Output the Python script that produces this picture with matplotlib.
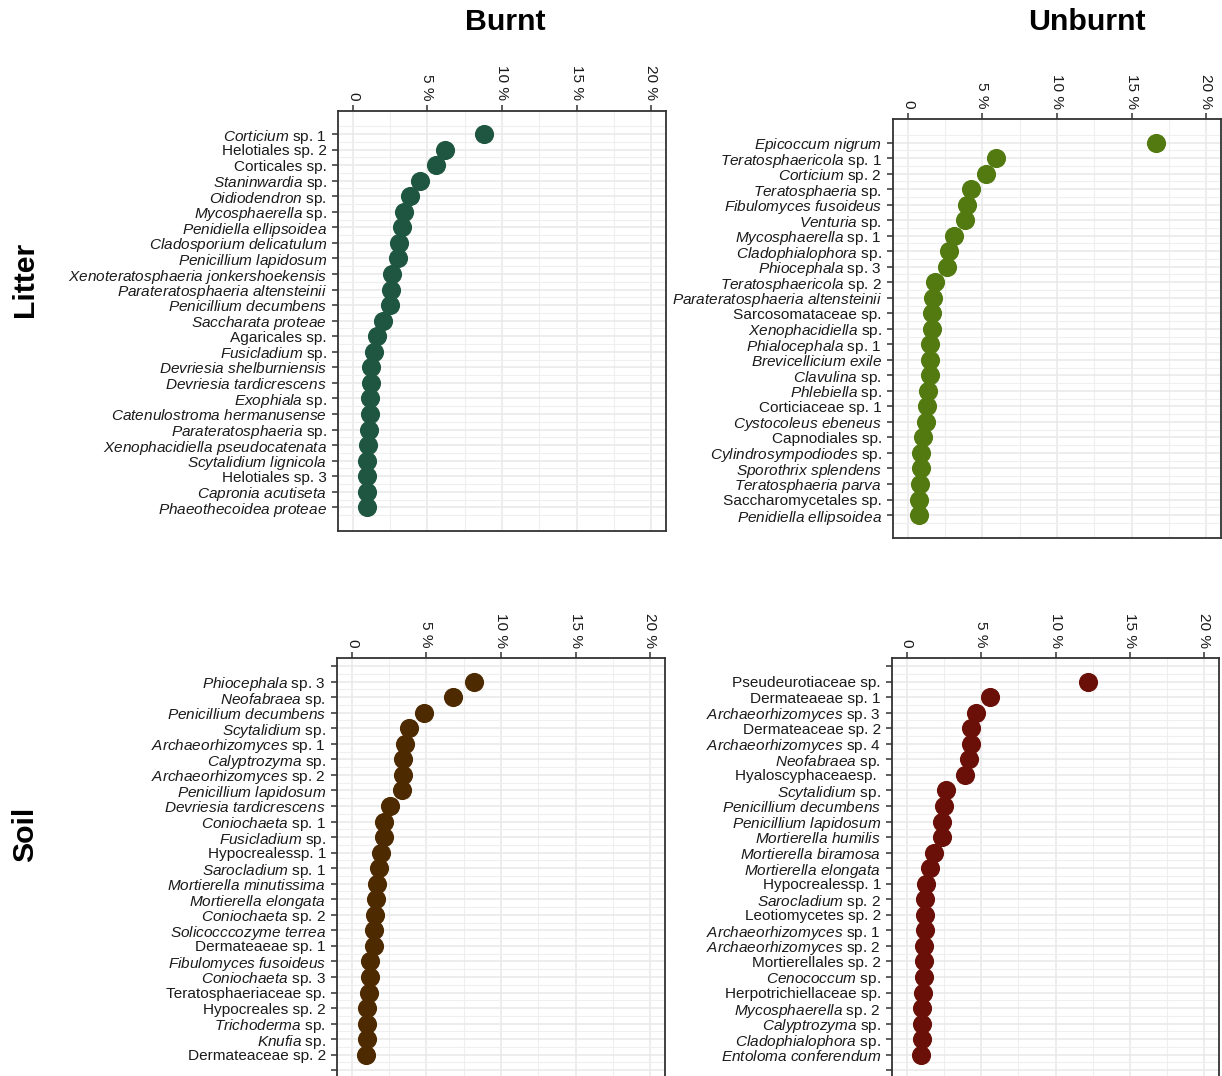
import matplotlib
matplotlib.use('Agg')
import matplotlib.pyplot as plt
import numpy as np

plt.rcParams['font.family'] = 'Liberation Sans'
plt.rcParams['mathtext.fontset'] = 'custom'
plt.rcParams['mathtext.rm'] = 'Liberation Sans'
plt.rcParams['mathtext.it'] = 'Liberation Sans:italic'
plt.rcParams['mathtext.bf'] = 'Liberation Sans:bold'

# relative abundance (%) of the top 25 taxa per habitat and treatment
# *...* marks the part of a name set in italics
litter_burnt_taxa = [
    "*Corticium* sp. 1", "Helotiales sp. 2", "Corticales sp.", "*Staninwardia* sp.",
    "*Oidiodendron* sp.", "*Mycosphaerella* sp.", "*Penidiella ellipsoidea*",
    "*Cladosporium delicatulum*", "*Penicillium lapidosum*",
    "*Xenoteratosphaeria jonkershoekensis*", "*Parateratosphaeria altensteinii*",
    "*Penicillium decumbens*", "*Saccharata proteae*", "Agaricales sp.",
    "*Fusicladium* sp.", "*Devriesia shelburniensis*", "*Devriesia tardicrescens*",
    "*Exophiala* sp.", "*Catenulostroma hermanusense*", "*Parateratosphaeria* sp.",
    "*Xenophacidiella pseudocatenata*", "*Scytalidium lignicola*", "Helotiales sp. 3",
    "*Capronia acutiseta*", "*Phaeothecoidea proteae*",
]
litter_burnt_pct = [8.8, 6.2, 5.6, 4.5, 3.85, 3.43, 3.27, 3.06, 3.04, 2.64, 2.56, 2.51,
                    2.05, 1.63, 1.4, 1.21, 1.19, 1.16, 1.16, 1.05, 1.03, 0.97, 0.92,
                    0.92, 0.92]

litter_unburnt_taxa = [
    "*Epicoccum nigrum*", "*Teratosphaericola* sp. 1", "*Corticium* sp. 2",
    "*Teratosphaeria* sp.", "*Fibulomyces fusoideus*", "*Venturia* sp.",
    "*Mycosphaerella* sp. 1", "*Cladophialophora* sp.", "*Phiocephala* sp. 3",
    "*Teratosphaericola* sp. 2", "*Parateratosphaeria altensteinii*",
    "Sarcosomataceae sp.", "*Xenophacidiella* sp.", "*Phialocephala* sp. 1",
    "*Brevicellicium exile*", "*Clavulina* sp.", "*Phlebiella* sp.",
    "Corticiaceae sp. 1", "*Cystocoleus ebeneus*", "Capnodiales sp.",
    "*Cylindrosympodiodes* sp.", "*Sporothrix splendens*", "*Teratosphaeria parva*",
    "Saccharomycetales sp.", "*Penidiella ellipsoidea*",
]
litter_unburnt_pct = [16.65, 5.9, 5.23, 4.21, 3.97, 3.83, 3.06, 2.77, 2.63, 1.85, 1.69,
                      1.61, 1.59, 1.49, 1.47, 1.45, 1.32, 1.3, 1.18, 1.03, 0.91, 0.87,
                      0.82, 0.77, 0.72]

soil_burnt_taxa = [
    "*Phiocephala* sp. 3", "*Neofabraea* sp.", "*Penicillium decumbens*",
    "*Scytalidium* sp.", "*Archaeorhizomyces* sp. 1", "*Calyptrozyma* sp.",
    "*Archaeorhizomyces* sp. 2", "*Penicillium lapidosum*", "*Devriesia tardicrescens*",
    "*Coniochaeta* sp. 1", "*Fusicladium* sp.", "Hypocrealessp. 1",
    "*Sarocladium* sp. 1", "*Mortierella minutissima*", "*Mortierella elongata*",
    "*Coniochaeta* sp. 2", "*Solicocccozyme terrea*", "Dermateaeae sp. 1",
    "*Fibulomyces fusoideus*", "*Coniochaeta* sp. 3", "Teratosphaeriaceae sp.",
    "Hypocreales sp. 2", "*Trichoderma* sp.", "*Knufia* sp.", "Dermateaceae sp. 2",
]
soil_burnt_pct = [8.21, 6.77, 4.84, 3.86, 3.53, 3.44, 3.42, 3.37, 2.58, 2.16, 2.12, 1.93,
                  1.84, 1.7, 1.63, 1.53, 1.51, 1.47, 1.23, 1.21, 1.12, 1.0, 0.98, 0.98,
                  0.95]

soil_unburnt_taxa = [
    "Pseudeurotiaceae sp.", "Dermateaeae sp. 1", "*Archaeorhizomyces* sp. 3",
    "Dermateaceae sp. 2", "*Archaeorhizomyces* sp. 4", "*Neofabraea* sp.",
    "Hyaloscyphaceaesp. ", "*Scytalidium* sp.", "*Penicillium decumbens*",
    "*Penicillium lapidosum*", "*Mortierella humilis*", "*Mortierella biramosa*",
    "*Mortierella elongata*", "Hypocrealessp. 1", "*Sarocladium* sp. 2",
    "Leotiomycetes sp. 2", "*Archaeorhizomyces* sp. 1", "*Archaeorhizomyces* sp. 2",
    "Mortierellales sp. 2", "*Cenococcum* sp.", "Herpotrichiellaceae sp.",
    "*Mycosphaerella* sp. 2", "*Calyptrozyma* sp.", "*Cladophialophora* sp.",
    "*Entoloma conferendum*",
]
soil_unburnt_pct = [12.19, 5.58, 4.62, 4.31, 4.29, 4.15, 3.94, 2.62, 2.48, 2.37, 2.35,
                    1.8, 1.55, 1.28, 1.25, 1.23, 1.21, 1.18, 1.16, 1.16, 1.09, 1.05,
                    1.03, 1.0, 0.96]

x_ticks = [0, 5, 10, 15, 20]
x_ticklabels = ["0", "5 %", "10 %", "15 %", "20 %"]

W, H = 1222, 1076
fig = plt.figure(figsize=(W / 100, H / 100), dpi=100)


def fmt(label):
    # turn *italic* markup into mathtext
    parts = label.split('*')
    out = ''
    for i, p in enumerate(parts):
        if i % 2 == 1:
            out += r'$\mathit{' + p.replace(' ', r'\ ') + '}$'
        else:
            out += p
    return out


def add_panel(box, taxa, pct, color, blank_ends=False):
    x0, y0, x1, y1 = box
    ax = fig.add_axes([x0 / W, 1 - y1 / H, (x1 - x0) / W, (y1 - y0) / H])
    n = len(taxa)
    pos = np.arange(n)
    ax.scatter(pct, pos, s=190, color=color, linewidths=0, zorder=3)

    ax.set_xlim(-1, 21)
    ax.set_ylim(n - 1 + 1.2, -1.2)

    labels = [fmt(t) for t in taxa]
    if blank_ends:
        ax.set_yticks(np.arange(-1, n + 1))
        ax.set_yticklabels([''] + labels + [''])
    else:
        ax.set_yticks(pos)
        ax.set_yticklabels(labels)
    ax.set_yticks(np.arange(-1.5, n + 1, 1.0), minor=True)

    ax.xaxis.tick_top()
    ax.set_xticks(x_ticks)
    ax.set_xticklabels(x_ticklabels)
    ax.set_xticks([2.5, 7.5, 12.5, 17.5], minor=True)

    ax.tick_params(which='major', length=4.5, width=1.1, color='#333333',
                   labelsize=11.1, labelcolor='#1a1a1a', pad=3.5)
    ax.tick_params(which='minor', length=0)
    ax.tick_params(axis='x', labelrotation=-90, pad=3)

    ax.set_axisbelow(True)
    ax.grid(which='major', color='#e8e8e8', linewidth=1.1)
    ax.grid(which='minor', color='#efefef', linewidth=0.8)
    for sp in ax.spines.values():
        sp.set_color('#333333')
        sp.set_linewidth(1.3)
    return ax


add_panel((338, 110.7, 666, 530.7), litter_burnt_taxa, litter_burnt_pct, '#1f5641')
add_panel((893, 119.3, 1221, 538.3), litter_unburnt_taxa, litter_unburnt_pct, '#527a10')
add_panel((337, 658.3, 665, 1078), soil_burnt_taxa, soil_burnt_pct, '#4d2a00', True)
add_panel((892, 658.3, 1219, 1078), soil_unburnt_taxa, soil_unburnt_pct, '#6b1008', True)

# column and row headers
fig.text(505 / W, 1 - 22 / H, 'Burnt', ha='center', va='center',
         fontsize=21.8, fontweight='bold')
fig.text(1087 / W, 1 - 22 / H, 'Unburnt', ha='center', va='center',
         fontsize=21.8, fontweight='bold')
fig.text(25 / W, 1 - 279 / H, 'Litter', ha='center', va='center', rotation=90,
         fontsize=21.8, fontweight='bold')
fig.text(25 / W, 1 - 834 / H, 'Soil', ha='center', va='center', rotation=90,
         fontsize=21.8, fontweight='bold')

fig.savefig('out.png', dpi=100)
